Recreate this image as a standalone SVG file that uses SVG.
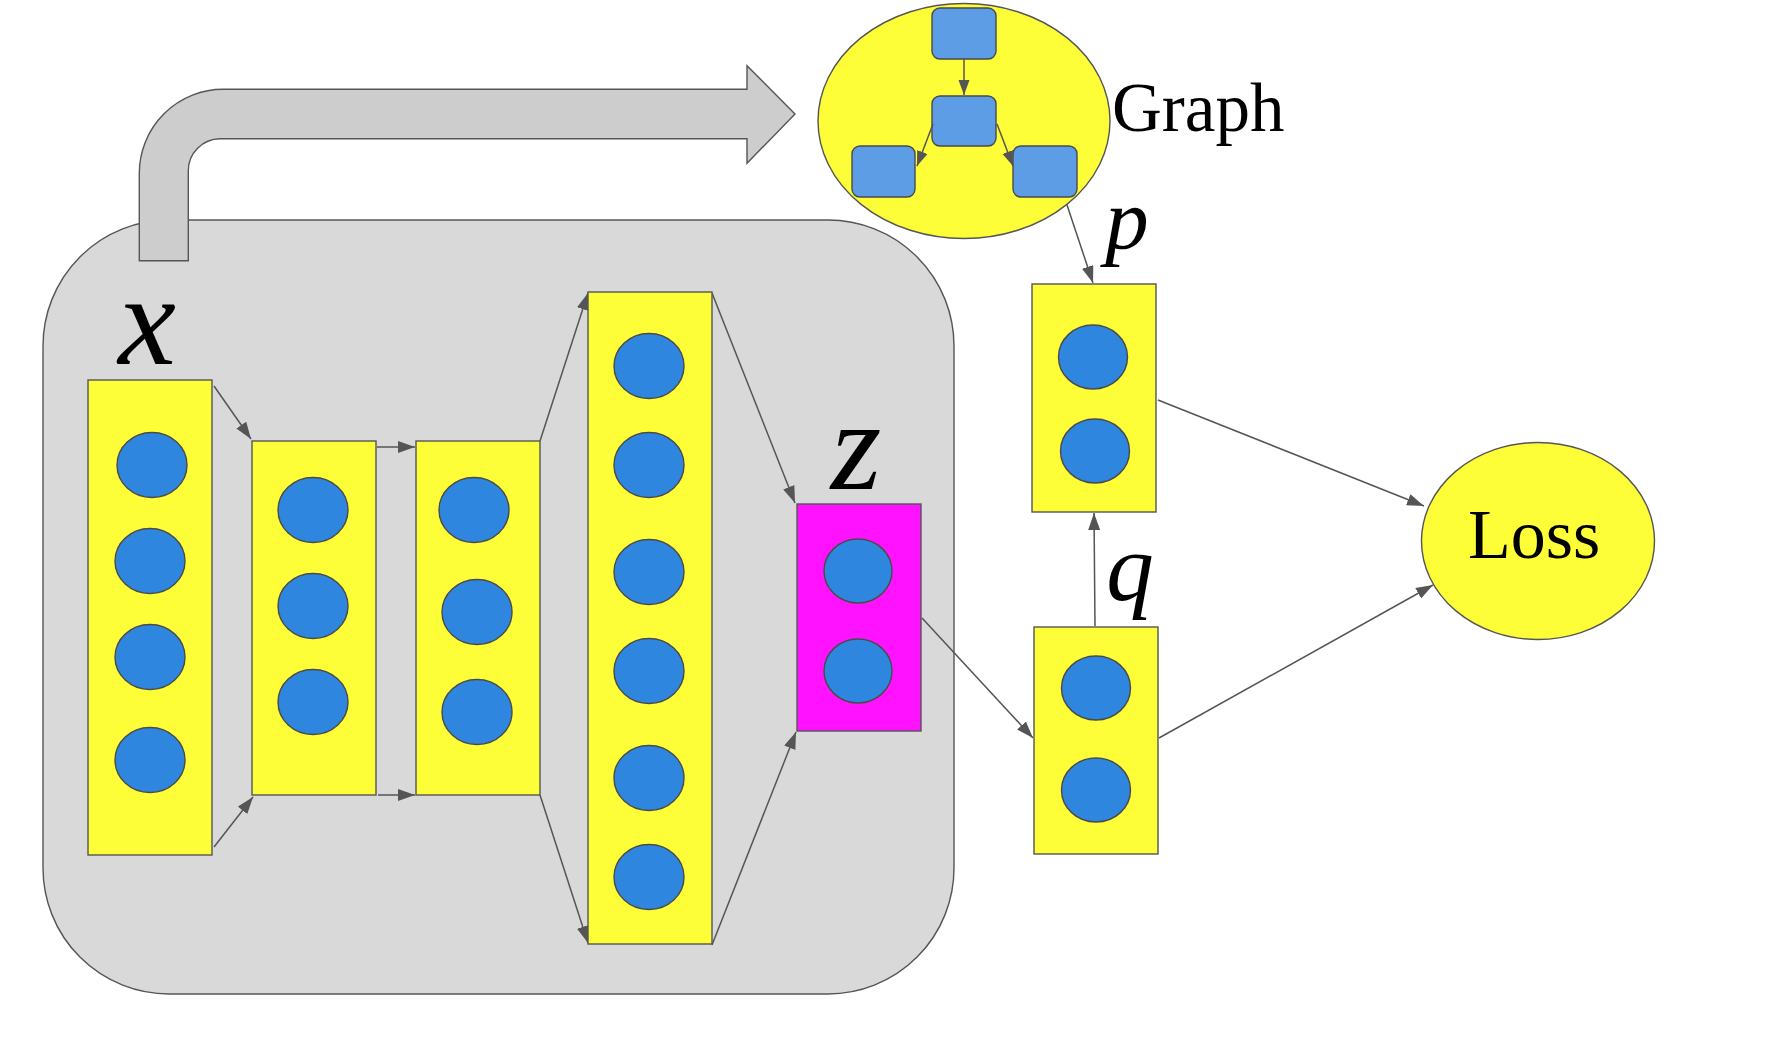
<svg xmlns="http://www.w3.org/2000/svg" width="1769" height="1052" viewBox="0 0 1769 1052">
<style>
.layer{fill:#fdfd38;stroke:#555;stroke-width:1.4}
.zl{fill:#ff12ff;stroke:#555;stroke-width:1.4}
.neuron{fill:#2f86de;stroke:#4a4a4a;stroke-width:1.4}
.sq{fill:#5c9de6;stroke:#4a4a4a;stroke-width:1.4}
.edge{fill:none;stroke:#555;stroke-width:1.5;marker-end:url(#ah)}
.sedge{fill:none;stroke:#555;stroke-width:1.5;marker-end:url(#ahs)}
.math{font-family:"Liberation Serif","Times New Roman",serif;font-style:italic;fill:#000}
.lbl{font-family:"Liberation Serif","Times New Roman",serif;fill:#000}
</style>
<defs>
<marker id="ah" markerUnits="userSpaceOnUse" markerWidth="18" markerHeight="12" refX="17" refY="6" orient="auto">
<path d="M0,0 L17,6 L0,12 Z" fill="#555"/>
</marker>
<marker id="ahs" markerUnits="userSpaceOnUse" markerWidth="16" markerHeight="12" refX="15" refY="6" orient="auto">
<path d="M0,0.5 L15,6 L0,11.5 Z" fill="#555"/>
</marker>
</defs>
<rect width="1769" height="1052" fill="#fff"/>

<g id="encoder-box">
<rect x="43" y="220" width="911" height="774" rx="126" ry="126" fill="#d9d9d9" stroke="#555" stroke-width="1.4"/>
</g>

<g id="graph-arrow">
<path d="M139.3,260.7 L139.3,173 A84,84 0 0 1 223.3,89.3 L747,89.3 L747,65.7 L795,114 L747,163.3 L747,138.7 L220,138.7 A32,32 0 0 0 188.3,170.7 L188.3,260.7 Z" fill="#cdcdcd" stroke="#555" stroke-width="1.4"/>
</g>

<g id="connectors">
<line class="edge" x1="214" y1="386" x2="251" y2="439"/>
<line class="edge" x1="214" y1="847" x2="253" y2="797"/>
<line class="edge" x1="377" y1="447" x2="415" y2="447"/>
<line class="edge" x1="378" y1="795" x2="415" y2="795"/>
<line class="edge" x1="540" y1="441" x2="588" y2="293"/>
<line class="edge" x1="540" y1="795" x2="588" y2="943"/>
<line class="edge" x1="712" y1="293" x2="795" y2="503"/>
<line class="edge" x1="712" y1="945" x2="796" y2="732"/>
<line class="edge" x1="922" y1="618" x2="1033" y2="738"/>
<line class="edge" x1="1067" y1="205" x2="1093" y2="283"/>
<line class="edge" x1="1095" y1="626" x2="1094" y2="513"/>
<line class="edge" x1="1158" y1="400" x2="1424" y2="506"/>
<line class="edge" x1="1159" y1="738" x2="1433" y2="585"/>
</g>

<g id="graph-node">
<ellipse cx="964" cy="121" rx="146" ry="117.5" fill="#fdfd38" stroke="#555" stroke-width="1.4"/>
<rect class="sq" x="932" y="8" width="64" height="51" rx="8"/>
<rect class="sq" x="932" y="96" width="64" height="50" rx="8"/>
<rect class="sq" x="852" y="146" width="63" height="51" rx="8"/>
<rect class="sq" x="1013" y="146" width="64" height="51" rx="8"/>
<line class="sedge" x1="964" y1="59" x2="964" y2="95"/>
<line class="sedge" x1="933" y1="124" x2="917" y2="166"/>
<line class="sedge" x1="997" y1="124" x2="1013" y2="166"/>
<text class="lbl" x="1112" y="131" font-size="69">Graph</text>
</g>

<g id="layer-x">
<rect class="layer" x="88" y="380" width="124" height="475"/>
<ellipse class="neuron" cx="152" cy="465" rx="35" ry="32.5"/>
<ellipse class="neuron" cx="150" cy="561" rx="35" ry="32.5"/>
<ellipse class="neuron" cx="150" cy="657" rx="35" ry="32.5"/>
<ellipse class="neuron" cx="150" cy="760" rx="35" ry="32.5"/>
<text class="math" x="147" y="364" font-size="130" text-anchor="middle">x</text>
</g>

<g id="layer-2">
<rect class="layer" x="252" y="441" width="124" height="354"/>
<ellipse class="neuron" cx="313" cy="510" rx="35" ry="32.5"/>
<ellipse class="neuron" cx="313" cy="606" rx="35" ry="32.5"/>
<ellipse class="neuron" cx="313" cy="702" rx="35" ry="32.5"/>
</g>

<g id="layer-3">
<rect class="layer" x="416" y="441" width="124" height="354"/>
<ellipse class="neuron" cx="474" cy="510" rx="35" ry="32.5"/>
<ellipse class="neuron" cx="477" cy="612" rx="35" ry="32.5"/>
<ellipse class="neuron" cx="477" cy="712" rx="35" ry="32.5"/>
</g>

<g id="layer-4">
<rect class="layer" x="588" y="292" width="124" height="652"/>
<ellipse class="neuron" cx="649" cy="366" rx="35" ry="32.5"/>
<ellipse class="neuron" cx="649" cy="465" rx="35" ry="32.5"/>
<ellipse class="neuron" cx="649" cy="572" rx="35" ry="32.5"/>
<ellipse class="neuron" cx="649" cy="671" rx="35" ry="32.5"/>
<ellipse class="neuron" cx="649" cy="778" rx="35" ry="32.5"/>
<ellipse class="neuron" cx="649" cy="877" rx="35" ry="32.5"/>
</g>

<g id="layer-z">
<rect class="zl" x="797" y="504" width="124" height="227"/>
<ellipse class="neuron" cx="858" cy="571" rx="34" ry="32"/>
<ellipse class="neuron" cx="858" cy="671" rx="34" ry="32"/>
<text class="math" x="856" y="489" font-size="130" text-anchor="middle">z</text>
</g>

<g id="layer-p">
<rect class="layer" x="1032" y="284" width="124" height="228"/>
<ellipse class="neuron" cx="1093" cy="357" rx="34.5" ry="32"/>
<ellipse class="neuron" cx="1095" cy="451" rx="34.5" ry="32"/>
<text class="math" x="1127" y="248" font-size="87" text-anchor="middle">p</text>
</g>

<g id="layer-q">
<rect class="layer" x="1034" y="627" width="124" height="227"/>
<ellipse class="neuron" cx="1096" cy="688" rx="34.5" ry="32"/>
<ellipse class="neuron" cx="1096" cy="790" rx="34.5" ry="32"/>
<text class="math" x="1130" y="600" font-size="95" text-anchor="middle">q</text>
</g>

<g id="loss">
<ellipse cx="1538" cy="541" rx="116.5" ry="98.5" fill="#fdfd38" stroke="#555" stroke-width="1.4"/>
<text class="lbl" x="1534" y="558" font-size="70" text-anchor="middle">Loss</text>
</g>
</svg>
